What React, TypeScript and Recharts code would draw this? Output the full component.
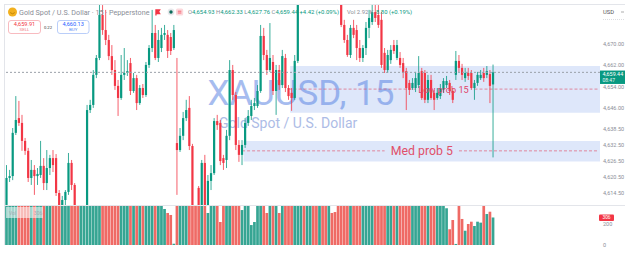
import React from 'react';
import { ComposedChart, Bar, XAxis, YAxis, ReferenceArea, ReferenceLine, ReferenceDot } from 'recharts';

const FONT = 'Roboto, "Liberation Sans", Arial, sans-serif';
const UP = '#089981';
const DOWN = '#f23645';
const VOL_UP = '#36a593';
const VOL_DOWN = '#ef6a65';

// 15-minute XAUUSD candles
const OPEN = [
  4608.9, 4620.1, 4620.8, 4636.9, 4642.4, 4640.6, 4633.9, 4630.2, 4620.1, 4623.1,
  4620.8, 4621.2, 4624.6, 4618.2, 4623.8, 4627.5, 4627.5, 4614.5, 4610.0, 4611.9,
  4614.9, 4625.7, 4617.5, 4608.9, 4604.0, 4606.0, 4608.2, 4645.4, 4647.3, 4658.5,
  4664.8, 4680.8, 4675.2, 4671.5, 4665.5, 4660.3, 4654.4, 4649.9, 4658.5, 4659.2,
  4662.9, 4652.5, 4657.3, 4648.0, 4653.6, 4651.0, 4662.2, 4668.5, 4674.1, 4664.8,
  4668.5, 4673.4, 4673.4, 4672.6, 4668.5, 4633.1, 4630.5, 4635.8, 4642.4, 4646.2,
  4632.0, 4608.9, 4616.4, 4610.0, 4625.7, 4610.0, 4619.0, 4621.9, 4641.3, 4640.6,
  4627.5, 4626.8, 4635.8, 4660.3, 4651.0, 4632.4, 4628.7, 4632.4, 4640.6, 4643.2,
  4646.9, 4646.9, 4652.5, 4673.0, 4665.9, 4660.3, 4663.3, 4652.5, 4660.3, 4654.7,
  4664.8, 4653.6, 4651.8, 4649.9, 4663.7, 4686.0, 4690.0, 4688.0, 4695.0, 4700.0,
  4696.0, 4692.0, 4697.0, 4693.0, 4690.0, 4694.0, 4691.0, 4690.0, 4688.5, 4677.1,
  4671.5, 4665.9, 4676.0, 4675.2, 4668.5, 4664.8, 4668.5, 4676.0, 4678.2, 4681.9,
  4680.8, 4679.0, 4666.7, 4660.3, 4664.0, 4669.6, 4664.8, 4664.8, 4662.9, 4659.9,
  4655.5, 4653.6, 4653.6, 4654.7, 4659.9, 4659.2, 4649.2, 4656.6, 4651.8, 4649.9,
  4650.6, 4652.9, 4654.7, 4655.5, 4652.5, 4658.5, 4663.7, 4661.1, 4657.3, 4659.2,
  4659.2, 4653.6, 4655.5, 4657.3, 4659.2, 4658.5, 4658.8, 4654.93,
];
const HIGH = [
  4624.9, 4623.1, 4638.7, 4650.6, 4648.8, 4643.6, 4635.0, 4631.3, 4626.8, 4624.9,
  4623.8, 4633.9, 4627.5, 4630.5, 4628.7, 4630.5, 4629.0, 4615.6, 4613.4, 4615.6,
  4629.4, 4626.8, 4618.2, 4609.5, 4608.0, 4609.5, 4647.3, 4649.2, 4660.3, 4665.9,
  4684.9, 4684.5, 4682.7, 4673.4, 4669.6, 4664.0, 4656.6, 4665.9, 4668.5, 4664.0,
  4664.8, 4659.2, 4658.5, 4654.7, 4655.1, 4663.3, 4669.6, 4682.7, 4677.1, 4675.2,
  4676.0, 4677.1, 4675.2, 4674.1, 4677.1, 4664.8, 4638.7, 4644.7, 4649.2, 4650.6,
  4632.8, 4610.0, 4617.1, 4626.8, 4628.7, 4621.2, 4624.9, 4642.4, 4643.6, 4641.7,
  4628.7, 4638.0, 4664.0, 4662.2, 4652.1, 4634.2, 4634.2, 4642.4, 4645.4, 4649.2,
  4649.9, 4654.7, 4677.1, 4676.0, 4667.8, 4677.8, 4665.9, 4662.2, 4662.2, 4667.8,
  4666.3, 4654.7, 4653.6, 4665.9, 4688.0, 4692.0, 4694.0, 4697.0, 4702.0, 4703.0,
  4698.0, 4699.0, 4700.0, 4695.0, 4696.0, 4697.0, 4693.0, 4692.0, 4690.9, 4679.0,
  4673.4, 4677.1, 4679.0, 4677.1, 4671.5, 4669.6, 4678.2, 4682.7, 4685.7, 4685.7,
  4684.5, 4681.9, 4668.5, 4667.8, 4669.6, 4671.5, 4671.5, 4667.0, 4664.8, 4661.1,
  4656.6, 4657.3, 4659.6, 4665.5, 4661.1, 4660.3, 4658.5, 4658.5, 4652.9, 4653.6,
  4655.1, 4657.3, 4658.1, 4656.6, 4653.6, 4667.4, 4665.9, 4662.6, 4661.1, 4661.1,
  4660.3, 4656.6, 4659.6, 4660.3, 4661.1, 4661.8, 4660.3, 4662.33,
];
const LOW = [
  4608.2, 4618.6, 4619.3, 4636.1, 4639.5, 4630.2, 4628.7, 4618.6, 4617.5, 4613.8,
  4617.5, 4620.1, 4615.6, 4615.6, 4621.2, 4622.3, 4613.4, 4606.3, 4606.3, 4608.2,
  4613.8, 4615.6, 4606.3, 4601.0, 4602.0, 4604.0, 4607.4, 4644.3, 4646.2, 4657.3,
  4664.0, 4673.4, 4669.6, 4664.0, 4658.5, 4652.9, 4643.2, 4649.2, 4656.6, 4658.1,
  4651.0, 4651.8, 4645.4, 4647.3, 4649.9, 4650.3, 4661.1, 4667.0, 4664.0, 4663.3,
  4667.0, 4671.5, 4664.8, 4665.9, 4667.8, 4613.8, 4629.8, 4634.2, 4641.3, 4630.5,
  4606.3, 4604.4, 4607.4, 4608.2, 4608.2, 4608.9, 4615.6, 4621.2, 4638.0, 4624.9,
  4623.1, 4623.8, 4634.2, 4649.2, 4630.5, 4626.1, 4624.9, 4631.3, 4639.5, 4641.7,
  4645.4, 4646.2, 4651.8, 4664.0, 4658.5, 4659.6, 4651.0, 4643.6, 4652.9, 4653.6,
  4652.1, 4649.2, 4645.1, 4649.2, 4662.9, 4685.3, 4686.5, 4687.0, 4693.0, 4694.0,
  4690.0, 4690.0, 4691.0, 4688.0, 4689.0, 4689.5, 4688.0, 4686.8, 4676.3, 4670.4,
  4665.2, 4664.8, 4672.2, 4664.0, 4663.3, 4663.3, 4665.9, 4672.2, 4677.1, 4678.2,
  4676.0, 4661.1, 4659.2, 4659.2, 4662.6, 4666.3, 4664.0, 4661.1, 4657.3, 4645.4,
  4651.0, 4652.9, 4652.1, 4653.6, 4649.2, 4648.0, 4648.0, 4649.2, 4645.4, 4649.2,
  4649.5, 4651.8, 4653.6, 4651.0, 4648.0, 4656.6, 4659.6, 4656.6, 4655.9, 4656.6,
  4652.9, 4649.2, 4654.4, 4656.6, 4655.9, 4657.3, 4648.0, 4627.76,
];
const CLOSE = [
  4620.1, 4620.8, 4636.9, 4641.7, 4640.6, 4633.9, 4630.2, 4620.1, 4623.1, 4620.8,
  4621.6, 4624.6, 4618.2, 4623.8, 4627.5, 4624.9, 4614.5, 4610.0, 4611.9, 4614.9,
  4625.7, 4617.5, 4608.9, 4604.0, 4606.0, 4608.0, 4645.4, 4647.3, 4658.5, 4664.8,
  4680.8, 4675.2, 4671.5, 4665.5, 4660.3, 4654.4, 4649.9, 4658.5, 4659.2, 4659.9,
  4652.5, 4657.3, 4648.0, 4653.6, 4651.0, 4662.2, 4668.5, 4674.1, 4664.8, 4671.5,
  4673.4, 4674.1, 4667.4, 4667.4, 4675.2, 4630.5, 4635.8, 4642.4, 4645.4, 4632.0,
  4608.9, 4606.3, 4608.9, 4625.7, 4610.0, 4619.0, 4621.9, 4641.3, 4639.8, 4626.4,
  4625.7, 4635.8, 4660.3, 4651.0, 4632.4, 4628.7, 4632.4, 4640.6, 4643.2, 4646.9,
  4648.0, 4652.5, 4673.0, 4665.9, 4660.3, 4664.8, 4652.5, 4660.3, 4654.7, 4665.5,
  4653.6, 4650.6, 4649.9, 4663.7, 4686.0, 4690.0, 4688.0, 4695.0, 4700.0, 4696.0,
  4692.0, 4697.0, 4693.0, 4690.0, 4694.0, 4691.0, 4690.0, 4688.5, 4677.1, 4671.5,
  4665.9, 4676.0, 4673.4, 4668.5, 4664.8, 4668.5, 4676.0, 4679.7, 4681.9, 4679.7,
  4677.1, 4662.2, 4660.3, 4665.9, 4667.8, 4667.4, 4669.6, 4662.2, 4659.2, 4653.6,
  4652.9, 4655.5, 4657.3, 4659.2, 4649.9, 4649.2, 4656.6, 4649.9, 4649.2, 4651.8,
  4653.6, 4656.2, 4656.2, 4652.5, 4649.2, 4663.7, 4661.1, 4658.5, 4659.2, 4658.1,
  4653.6, 4655.5, 4658.5, 4658.5, 4657.3, 4659.9, 4654.4, 4659.44,
];
const VOLUME = [
  620, 540, 710, 680, 590, 640, 520, 600, 470, 530,
  450, 560, 610, 580, 490, 470, 700, 650, 480, 440,
  720, 600, 680, 560, 520, 540, 980, 610, 760, 690,
  1100, 820, 700, 640, 660, 590, 620, 710, 580, 470,
  640, 520, 610, 480, 450, 600, 560, 720, 640, 500,
  420, 343, 305, 286, 12, 760, 540, 510, 470, 620,
  880, 640, 590, 700, 680, 305, 450, 620, 480, 219,
  430, 520, 840, 660, 720, 540, 333, 480, 440, 190,
  219, 420, 900, 610, 305, 560, 600, 480, 305, 520,
  540, 470, 440, 600, 950, 820, 700, 760, 690, 640,
  610, 580, 560, 520, 480, 305, 314, 450, 700, 620,
  560, 590, 480, 540, 470, 420, 600, 520, 560, 480,
  450, 700, 560, 510, 470, 430, 480, 450, 420, 600,
  480, 440, 460, 520, 560, 540, 500, 470, 450, 420,
  440, 400, 350, 150, 238, 10, 420, 248, 136, 200,
  222, 181, 222, 213, 420, 295, 317, 262,
];

const SLOTS = 192; // candle slots incl. empty future space on the right
const PRICE_TICKS = [4670, 4662, 4654, 4646, 4638.5, 4632.5, 4626.5, 4620.5, 4614.5];
const PRICE_DOMAIN: [number, number] = [4610.03, 4684.9];
const VOL_TICKS = [0, 200];
const VOL_DOMAIN: [number, number] = [0, 381];
const LAST = CLOSE.length - 1;
const LAST_TIME = '08:47';
const LAST_VOL_TEXT = '306';

const ZONE_LOW = { start: 92, end: 191, top: 4661.8, bottom: 4644.4, level: 4653.2, text: 'Low prob 15', textAt: 141, lineStart: 91, gapStart: 132, gapEnd: 151 };
const ZONE_MED = { start: 77, end: 191, top: 4633.9, bottom: 4626.2, level: 4630.2, text: 'Med prob 5', textAt: 134, lineStart: 76, gapStart: 122, gapEnd: 146 };

const rows = Array.from({ length: SLOTS }, (_, i) =>
  i < OPEN.length
    ? { i, o: OPEN[i], h: HIGH[i], l: LOW[i], c: CLOSE[i], v: VOLUME[i] }
    : { i }
);

const fmt = (v: number) =>
  v.toLocaleString('en-US', { minimumFractionDigits: 2, maximumFractionDigits: 2 });

function Candle(props: any) {
  const { x, y, width, height, payload } = props;
  if (!payload || payload.o == null || !isFinite(y) || !isFinite(height)) return null;
  const { o, h, l, c } = payload;
  const yTop = Math.min(y, y + height);
  const yBot = Math.max(y, y + height);
  const span = h - l;
  const toY = (v: number) => (span > 0 ? yTop + ((h - v) / span) * (yBot - yTop) : yTop);
  const cx = x + width / 2;
  const color = c >= o ? UP : DOWN;
  const bTop = toY(Math.max(o, c));
  const bBot = toY(Math.min(o, c));
  return (
    <g>
      <line x1={cx} x2={cx} y1={yTop} y2={yBot} stroke={color} strokeWidth={0.8} />
      <rect x={cx - 1.1} y={bTop} width={2.2} height={Math.max(bBot - bTop, 0.8)} fill={color} />
    </g>
  );
}

function VolBar(props: any) {
  const { x, y, width, height, payload } = props;
  if (!payload || payload.v == null || !isFinite(y) || !isFinite(height)) return null;
  const cx = x + width / 2;
  const top = Math.min(y, y + height);
  return (
    <rect x={cx - 1.35} y={top} width={2.7} height={Math.abs(height)}
      fill={payload.c >= payload.o ? VOL_UP : VOL_DOWN} />
  );
}

function PriceTag(props: any) {
  const vb = props.viewBox || {};
  const x = (vb.x ?? 0) + (vb.width ?? 0);
  const y = vb.y ?? 0;
  return (
    <g>
      <rect x={x} y={y - 1.8} width={25} height={13.4} fill={UP} />
      <text x={x + 2.5} y={y + 1.2} fontSize={5.4} fill="#fff" fontFamily={FONT} dominantBaseline="central">{fmt(CLOSE[LAST])}</text>
      <text x={x + 2.5} y={y + 7.8} fontSize={5} fill="#e8f7f3" fontFamily={FONT} dominantBaseline="central">{LAST_TIME}</text>
    </g>
  );
}

function VolTag(props: any) {
  const vb = props.viewBox || {};
  const x = (vb.x ?? 0) + (vb.width ?? 0);
  const y = vb.y ?? 0;
  return (
    <g>
      <rect x={x - 1} y={y - 3} width={15} height={6.5} rx={1} fill={DOWN} />
      <text x={x + 6.5} y={y + 0.3} fontSize={4.8} fill="#fff" textAnchor="middle" fontFamily={FONT} dominantBaseline="central">{LAST_VOL_TEXT}</text>
    </g>
  );
}

function LowProbLabel(props: any) {
  const vb = props.viewBox || {};
  const cx = (vb.x ?? 0) + (vb.width ?? 0) / 2;
  const cy = (vb.y ?? 0) + (vb.height ?? 0) / 2;
  return (
    <text x={cx} y={cy} textAnchor="middle" dominantBaseline="central" fontSize={9.2}
      fill="#e04468" fontFamily={FONT}>{ZONE_LOW.text}</text>
  );
}

const zoneText = (text: string, size: number, opacity: number) => (p: any) => (
  <text x={p.cx} y={p.cy} textAnchor="middle" dominantBaseline="central" fontSize={size}
    fill="#e0506a" fillOpacity={opacity} fontFamily={FONT}>{text}</text>
);

const zoneLines = (z: typeof ZONE_LOW) => [
  <ReferenceLine key={z.text + 'a'} zIndex={150} ifOverflow="visible" segment={[{ x: z.lineStart, y: z.level }, { x: z.gapStart, y: z.level }]}
    stroke="#e0506a" strokeOpacity={0.8} strokeWidth={0.8} strokeDasharray="3 2" />,
  <ReferenceLine key={z.text + 'b'} zIndex={150} ifOverflow="visible" segment={[{ x: z.gapEnd, y: z.level }, { x: z.end, y: z.level }]}
    stroke="#e0506a" strokeOpacity={0.8} strokeWidth={0.8} strokeDasharray="3 2" />,
];

export default function App() {
  const legendGrey = '#8a8d96';
  return (
    <div style={{ position: 'absolute', left: 0, top: 0, width: 625, height: 253, background: '#fff', overflow: 'hidden', fontFamily: FONT }}>
      {/* watermark */}
      <svg width={625} height={253} style={{ position: 'absolute', left: 0, top: 0 }}>
        <text x={207.6} y={105} fontSize={35} fill="#a6bcef" fontFamily={FONT}>XAUUSD, 15</text>
        <text x={219} y={128.3} fontSize={14} fill="#adbce6" fontFamily={FONT}>Gold Spot / U.S. Dollar</text>
      </svg>

      {/* price pane */}
      <div style={{ position: 'absolute', left: 0, top: 0 }}>
        <ComposedChart width={625} height={205} data={rows} margin={{ top: 4, right: 0, bottom: 0, left: 5 }} barCategoryGap={0} barGap={0}>
          <XAxis dataKey="i" hide />
          <YAxis orientation="right" width={25} domain={PRICE_DOMAIN} allowDataOverflow ticks={PRICE_TICKS} interval={0}
            tickFormatter={fmt} axisLine={false} tickLine={false} tickSize={1} tickMargin={2}
            tick={{ fontSize: 5.5, fill: '#8b8e97', fontFamily: FONT }} />
          <ReferenceArea zIndex={100} ifOverflow="visible" x1={ZONE_LOW.start} x2={ZONE_LOW.end} y1={ZONE_LOW.bottom} y2={ZONE_LOW.top}
            fill="#5b86e5" fillOpacity={0.2} stroke="none" />
          <ReferenceArea zIndex={100} ifOverflow="visible" x1={ZONE_MED.start} x2={ZONE_MED.end} y1={ZONE_MED.bottom} y2={ZONE_MED.top}
            fill="#5b86e5" fillOpacity={0.2} stroke="none" />
          {zoneLines(ZONE_LOW)}
          {zoneLines(ZONE_MED)}
          <ReferenceDot zIndex={160} ifOverflow="visible" x={ZONE_MED.textAt} y={ZONE_MED.level} r={1} shape={zoneText(ZONE_MED.text, 12.3, 1)} />
          <Bar dataKey={(d: any) => (d.o == null ? null : [d.l, d.h])} shape={Candle} isAnimationActive={false} />
          <ReferenceDot zIndex={350} ifOverflow="visible" x={ZONE_LOW.textAt} y={ZONE_LOW.level} r={0} fill="none" stroke="none"
            label={(p: any) => <LowProbLabel {...p} />} />
          <ReferenceLine zIndex={400} y={CLOSE[LAST]} stroke="#9aa0a8" strokeWidth={1} strokeDasharray="2 2"
            label={(p: any) => <PriceTag {...p} />} />
        </ComposedChart>
      </div>

      {/* volume pane */}
      <div style={{ position: 'absolute', left: 0, top: 205 }}>
        <ComposedChart width={625} height={48} data={rows} margin={{ top: 0, right: 0, bottom: 8, left: 5 }} barCategoryGap={0} barGap={0}>
          <XAxis dataKey="i" hide />
          <YAxis orientation="right" width={25} domain={VOL_DOMAIN} allowDataOverflow ticks={VOL_TICKS} interval={0}
            axisLine={false} tickLine={false} tickSize={1} tickMargin={2}
            tick={{ fontSize: 5.5, fill: '#8b8e97', fontFamily: FONT }} />
          <Bar dataKey="v" shape={VolBar} isAnimationActive={false} />
          <ReferenceLine y={VOLUME[LAST]} stroke="none" label={(p: any) => <VolTag {...p} />} />
        </ComposedChart>
      </div>

      {/* overlay: borders, legend, trade buttons */}
      <svg width={625} height={253} style={{ position: 'absolute', left: 0, top: 0 }}>
        <line x1={4} x2={625} y1={4.5} y2={4.5} stroke="#e3e5ea" strokeWidth={1} />
        <line x1={4.5} x2={4.5} y1={4} y2={245} stroke="#e3e5ea" strokeWidth={1} />
        <line x1={4} x2={625} y1={205.5} y2={205.5} stroke="#e3e5ea" strokeWidth={1} />

        <circle cx={12.5} cy={12} r={4.5} fill="#f2b01e" />
        <path d="M10.2 12.6 Q12.5 15 14.8 12.6" stroke="#b87c00" strokeWidth={0.8} fill="none" />
        <text x={19} y={14.6} fontSize={7.2} fill={legendGrey} fontFamily={FONT}>Gold Spot / U.S. Dollar · 15 · Pepperstone</text>
        <path d="M155.3 9.3 L160.8 9.3 L159.3 11.8 L160.8 14.3 L156.6 14.3 L156.6 15.5 L155.3 15.5 Z" fill={DOWN} />
        <circle cx={171} cy={12} r={3.4} fill="#e7e8eb" />
        <circle cx={171} cy={12} r={1.7} fill="#0b6b5a" />
        <rect x={176} y={8.6} width={7.2} height={7} rx={1.5} fill="#fcd9dd" />
        <line x1={177.8} x2={181.4} y1={11.2} y2={11.2} stroke={DOWN} strokeWidth={0.7} />
        <line x1={177.8} x2={181.4} y1={13} y2={13} stroke={DOWN} strokeWidth={0.7} />
        <text x={188} y={14.3} fontSize={5.9} fontFamily={FONT}>
          <tspan fill={legendGrey}>O</tspan><tspan fill={UP}>4,654.93 </tspan>
          <tspan fill={legendGrey}>H</tspan><tspan fill={UP}>4,662.33 </tspan>
          <tspan fill={legendGrey}>L</tspan><tspan fill={UP}>4,627.76 </tspan>
          <tspan fill={legendGrey}>C</tspan><tspan fill={UP}>4,659.44 +4.42 (+0.09%)</tspan>
        </text>
        <text x={347} y={14.3} fontSize={5.9} fill={legendGrey} fontFamily={FONT}>Vol 2.92 K</text>
        <text x={376} y={14.3} fontSize={5.9} fill={UP} fontFamily={FONT}>8.80 (+0.19%)</text>

        <rect x={8.5} y={20.5} width={32} height={13} rx={2.5} fill="#fff" stroke="#f6a9b0" strokeWidth={0.8} />
        <text x={24.5} y={26.2} fontSize={5.6} fill={DOWN} textAnchor="middle" fontFamily={FONT}>4,659.91</text>
        <text x={24.5} y={31.2} fontSize={4.4} fill="#f07a84" textAnchor="middle" fontFamily={FONT}>SELL</text>
        <text x={48} y={28.6} fontSize={4.2} fill="#333" textAnchor="middle" fontFamily={FONT}>0.22</text>
        <rect x={57.5} y={20.5} width={31.5} height={13} rx={2.5} fill="#fff" stroke="#a8c1f7" strokeWidth={0.8} />
        <text x={73.2} y={26.2} fontSize={5.6} fill="#2962ff" textAnchor="middle" fontFamily={FONT}>4,660.13</text>
        <text x={73.2} y={31.2} fontSize={4.4} fill="#5a86f5" textAnchor="middle" fontFamily={FONT}>BUY</text>

        <text x={603} y={14} fontSize={5.8} fill="#555" fontFamily={FONT}>USD</text>
        <line x1={621} x2={624} y1={12} y2={12} stroke="#777" strokeWidth={0.6} />
        <line x1={603} x2={625} y1={19.5} y2={19.5} stroke="#c4c6cc" strokeWidth={0.6} strokeDasharray="1 1" />

        <rect x={6} y={207} width={37} height={11} fill="#fff" fillOpacity={0.55} />
        <text x={9} y={214.5} fontSize={5} fill="#a7a9b0" fontFamily={FONT}>Vol</text>
        <text x={34} y={214.5} fontSize={5} fill="#a7a9b0" fontFamily={FONT}>{LAST_VOL_TEXT}</text>
      </svg>
    </div>
  );
}
